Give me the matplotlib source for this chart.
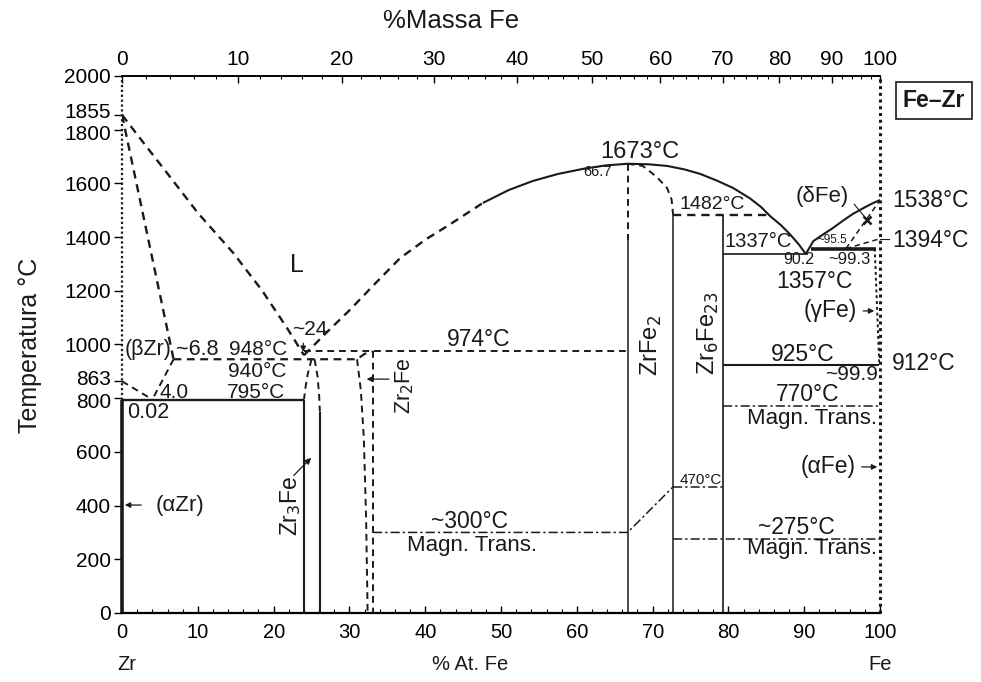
import numpy as np
import matplotlib
matplotlib.use("Agg")
import matplotlib.pyplot as plt
from matplotlib.transforms import ScaledTranslation

plt.rcParams['font.family'] = ['Liberation Sans', 'DejaVu Sans']

# ---------------- data (at.% Fe, T in °C) ----------------
liq_zr_x = [0, 3.0, 5.9, 10.0, 14.7, 18.5, 21.8, 24.0]
liq_zr_T = [1855, 1745, 1640, 1490, 1340, 1200, 1060, 960]
sol_bzr_x = [0, 6.8]
sol_bzr_T = [1855, 945]
liq_mid_dash_x = [24.0, 27.0, 30.1, 33.5, 36.7, 40.0, 43.3, 47.6]
liq_mid_dash_T = [960, 1045, 1130, 1230, 1322, 1390, 1448, 1527]
liq_mid_x = [47.6, 51.0, 54.2, 57.5, 60.8, 63.8, 66.7, 69.5, 71.9, 74.2, 76.3, 78.5,
             80.6, 82.8, 84.3, 85.5, 86.9, 88.1, 89.3, 90.2]
liq_mid_T = [1527, 1575, 1609, 1635, 1654, 1667, 1673, 1671, 1665, 1652, 1635, 1610,
             1583, 1545, 1512, 1478, 1445, 1411, 1372, 1337]
liq_fe_x = [90.2, 91.2, 92.5, 93.8, 95.1, 96.4, 97.8, 99.1, 100]
liq_fe_T = [1337, 1385, 1410, 1434, 1461, 1486, 1508, 1527, 1538]

az_x = [0, 4.0]
az_T = [863, 795]
bz_x = [6.8, 4.0]
bz_T = [945, 795]
eut948_x = [6.8, 31.0, 32.0, 33.1]
eut948_T = [945, 945, 965, 974]
per974_x = [24.0, 66.7]
per974_T = [974, 974]
eut795_x = [0, 24.0]
eut795_T = [795, 795]

zr3_left_dash_x = [25.0, 24.5, 24.2, 24.0]
zr3_left_dash_T = [945, 890, 840, 795]
zr3_right_dash_x = [25.4, 25.8, 26.0, 26.1]
zr3_right_dash_T = [945, 880, 810, 750]
zr3_left_x = [24.0, 24.0]
zr3_left_T = [795, 0]
zr3_right_x = [26.1, 26.1]
zr3_right_T = [750, 0]

zr2_left_x = [31.0, 31.5, 31.9, 32.2, 32.4]
zr2_left_T = [945, 830, 650, 350, 0]
zr2_right_x = [33.1, 33.1]
zr2_right_T = [974, 0]

zrfe2_left_dash_x = [66.7, 66.7]
zrfe2_left_dash_T = [1673, 1385]
zrfe2_left_x = [66.7, 66.7]
zrfe2_left_T = [1385, 0]
zrfe2_right_dash_x = [66.7, 68.7, 70.5, 71.9, 72.5, 72.7]
zrfe2_right_dash_T = [1673, 1665, 1625, 1583, 1540, 1482]
zrfe2_right_x = [72.7, 72.7]
zrfe2_right_T = [1482, 0]

per1482_x = [72.7, 85.4]
per1482_T = [1482, 1482]
zr6_x = [79.3, 79.3]
zr6_T = [1482, 0]
eut1337_x = [79.3, 90.2]
eut1337_T = [1337, 1337]
per1357_x = [90.9, 99.4]
per1357_T = [1357, 1357]
dsol_x = [95.5, 100]
dsol_T = [1357, 1538]
dsolv_x = [95.5, 100]
dsolv_T = [1357, 1394]
gam_x = [99.3, 99.6, 99.9]
gam_T = [1357, 1140, 925]
eut925_x = [79.3, 99.9]
eut925_T = [925, 925]
mag770_x = [79.3, 100]
mag770_T = [770, 770]
mag275_x = [72.7, 100]
mag275_T = [275, 275]
mag470_x = [72.7, 79.3]
mag470_T = [470, 470]
mag300_x = [33.1, 66.7, 72.7]
mag300_T = [300, 300, 470]

x_ticks = list(range(0, 101, 10))
y_ticks = list(range(0, 2001, 200))
y_extra = [863, 1855]
wt_ticks = list(range(0, 101, 10))

M_FE, M_ZR = 55.845, 91.224


def wt_to_at(w):
    w = np.asarray(w, dtype=float)
    a = w / M_FE
    b = (100 - w) / M_ZR
    return 100 * a / (a + b)


def at_to_wt(x):
    x = np.asarray(x, dtype=float)
    a = x * M_FE
    b = (100 - x) * M_ZR
    return 100 * a / (a + b)


# ---------------- figure ----------------
fig = plt.figure(figsize=(9.81, 6.82), dpi=100)
ax = fig.add_axes([0.1244, 0.1012, 0.7727, 0.7874])
ax.set_xlim(0, 100)
ax.set_ylim(0, 2000)

K = '#1a1a1a'
dash = (0, (3.5, 2.5))
dashdot = (0, (6, 2, 1.5, 2))
lw = 1.4

def P(x, y, ls='-', w=lw, **kw):
    ax.plot(x, y, color=K, ls=ls, lw=w, solid_capstyle='butt', **kw)

P(liq_zr_x, liq_zr_T, dash, 1.7)
P(sol_bzr_x, sol_bzr_T, dash, 1.7)
P(liq_mid_dash_x, liq_mid_dash_T, dash, 1.7)
P(liq_mid_x, liq_mid_T, '-', 1.5)
P(liq_fe_x, liq_fe_T, '-', 1.5)
P(az_x, az_T, dash)
P(bz_x, bz_T, dash)
P(eut948_x, eut948_T, dash, 1.6)
P(per974_x, per974_T, dash, 1.4)
P(eut795_x, eut795_T, '-', 1.7)
P(zr3_left_dash_x, zr3_left_dash_T, dash)
P(zr3_right_dash_x, zr3_right_dash_T, dash)
P(zr3_left_x, zr3_left_T, '-', 1.5)
P(zr3_right_x, zr3_right_T, '-', 1.5)
P(zr2_left_x, zr2_left_T, dash)
P(zr2_right_x, zr2_right_T, dash)
P(zrfe2_left_dash_x, zrfe2_left_dash_T, dash)
P(zrfe2_left_x, zrfe2_left_T, '-', 1.1)
P(zrfe2_right_dash_x, zrfe2_right_dash_T, dash)
P(zrfe2_right_x, zrfe2_right_T, '-', 1.1)
P(per1482_x, per1482_T, dash, 1.7)
P(zr6_x, zr6_T, '-', 1.2)
P(eut1337_x, eut1337_T, '-', 1.2)
P(per1357_x, per1357_T, '-', 2.6)
P(dsol_x, dsol_T, dash, 1.1)
P(dsolv_x, dsolv_T, dash, 1.1)
P(gam_x, gam_T, (0, (1.5, 1.5)), 1.4)
P(eut925_x, eut925_T, '-', 1.5)
P(mag770_x, mag770_T, dashdot, 1.1)
P(mag275_x, mag275_T, dashdot, 1.1)
P(mag470_x, mag470_T, dashdot, 1.1)
P(mag300_x, mag300_T, dashdot, 1.1)

# x marker on delta-Fe solidus
ax.plot([98.3], [1464], marker='x', color=K, ms=6, mew=1.8)

# spines
ax.spines['left'].set_visible(False)
ax.spines['right'].set_visible(False)
ax.plot([0, 0], [0, 795], color=K, lw=2.6, solid_capstyle='butt', clip_on=False)
ax.plot([0, 0], [795, 2000], color=K, lw=1.6, ls=(0, (1, 1.2)), clip_on=False)
ax.plot([100, 100], [0, 2000], color=K, lw=2.2, ls=(0, (1, 1.2)), clip_on=False)
ax.spines['bottom'].set_linewidth(1.6)
ax.spines['top'].set_linewidth(1.2)

# ticks
ax.set_xticks(x_ticks)
ax.set_xticks(np.arange(0, 101, 2), minor=True)
ax.tick_params(axis='x', which='major', direction='in', length=5, width=1, labelsize=14.5, pad=7)
ax.tick_params(axis='x', which='minor', direction='in', length=3, width=0.8)
ax.set_yticks(y_ticks + y_extra)
ax.set_yticklabels([str(v) for v in y_ticks + y_extra])
ax.tick_params(axis='y', which='major', direction='out', length=6, width=1, labelsize=15, pad=2)
shifts = {'1855': 3, '1800': -2, '863': 3, '800': -2}
for lab in ax.get_yticklabels():
    s = shifts.get(lab.get_text())
    if s:
        lab.set_transform(lab.get_transform() + ScaledTranslation(0, s / 72, fig.dpi_scale_trans))

sec = ax.secondary_xaxis('top', functions=(at_to_wt, wt_to_at))
sec.set_xticks(wt_ticks)
sec.set_xticks(np.arange(0, 101, 2), minor=True)
sec.tick_params(axis='x', which='major', direction='in', length=5, width=1, labelsize=15, pad=5)
sec.tick_params(axis='x', which='minor', direction='in', length=2.5, width=0.8)
sec.spines['top'].set_linewidth(1.2)

# ---------------- labels ----------------
def T(x, y, s, fs=16, **kw):
    ax.text(x, y, s, fontsize=fs, color=K, ha=kw.pop('ha', 'center'), va=kw.pop('va', 'center'), **kw)

def arrow(x0, y0, x1, y1, ms=8):
    ax.annotate('', xy=(x1, y1), xytext=(x0, y0),
                arrowprops=dict(arrowstyle='-|>', color=K, lw=0.9, mutation_scale=ms))

T(23.1, 1296, 'L', 18)
T(68.3, 1717, '1673°C', 17)
T(62.7, 1642, '66.7', 10.5)
T(77.8, 1520, '1482°C', 14)
T(92.4, 1550, '(δFe)', 16)
ax.plot([96.6, 98.3], [1522, 1464], color=K, lw=0.8)
T(83.9, 1382, '1337°C', 14.5)
T(93.7, 1390, '~95.5', 8.5)
T(89.3, 1315, '90.2', 11.5)
T(96.0, 1315, '~99.3', 12)
T(91.4, 1233, '1357°C', 16.5)
T(93.4, 1125, '(γFe)', 16.5)
arrow(97.4, 1125, 99.6, 1125)
T(89.8, 962, '925°C', 16.5)
T(96.2, 887, '~99.9', 15)
T(90.5, 812, '770°C', 16.5)
T(91.0, 726, 'Magn. Trans.', 16)
T(93.1, 544, '(αFe)', 16.5)
arrow(97.2, 544, 100, 544)
T(89.0, 320, '~275°C', 16.5)
T(91.0, 242, 'Magn. Trans.', 16)
T(76.3, 497, '470°C', 11)
T(45.9, 339, '~300°C', 16.5)
T(46.2, 252, 'Magn. Trans.', 16)
T(47.0, 1017, '974°C', 16.5)
T(69.9, 995, 'ZrFe$_2$', 17, rotation=90)
T(77.3, 1040, 'Zr$_6$Fe$_{23}$', 17, rotation=90)
T(37.3, 848, 'Zr$_2$Fe', 15.5, rotation=90)
arrow(35.6, 871, 31.9, 871, 9)
T(22.2, 398, 'Zr$_3$Fe', 16.5, rotation=90)
arrow(22.4, 505, 25.2, 585, 9)
T(3.4, 980, '(βZr)', 15.5)
T(9.9, 980, '~6.8', 15.5)
T(17.9, 980, '948°C', 15)
T(17.8, 898, '940°C', 15)
T(6.9, 823, '4.0', 15)
T(17.7, 823, '795°C', 15)
T(3.4, 745, '0.02', 15.5)
T(24.8, 1056, '~24', 15)
arrow(23.9, 1015, 23.9, 962)
T(7.6, 402, '(αZr)', 16)
arrow(2.9, 402, 0.0, 402)

# right-side labels
T(101.6, 1538, '1538°C', 16.5, ha='left', clip_on=False)
T(101.6, 1389, '1394°C', 16.5, ha='left', clip_on=False)
T(101.6, 928, '912°C', 16.5, ha='left', clip_on=False)
ax.plot([100, 101.2], [1394, 1394], color=K, lw=0.8, clip_on=False)

# figure-level texts
fig.text(0.129, 0.025, 'Zr', fontsize=14.5, ha='center', va='center', color=K)
fig.text(0.479, 0.025, '% At. Fe', fontsize=14.5, ha='center', va='center', color=K)
fig.text(0.897, 0.025, 'Fe', fontsize=14.5, ha='center', va='center', color=K)
fig.text(0.46, 0.969, '%Massa Fe', fontsize=18.5, ha='center', va='center', color=K)
fig.text(0.031, 0.494, 'Temperatura °C', fontsize=18, rotation=90, ha='center', va='center', color=K)
fig.text(0.952, 0.853, 'Fe–Zr', fontsize=16.5, fontweight='bold', ha='center', va='center', color=K,
         bbox=dict(boxstyle='square,pad=0.3', fc='white', ec=K, lw=1.2))

fig.savefig('out.png', dpi=100, facecolor='white')
